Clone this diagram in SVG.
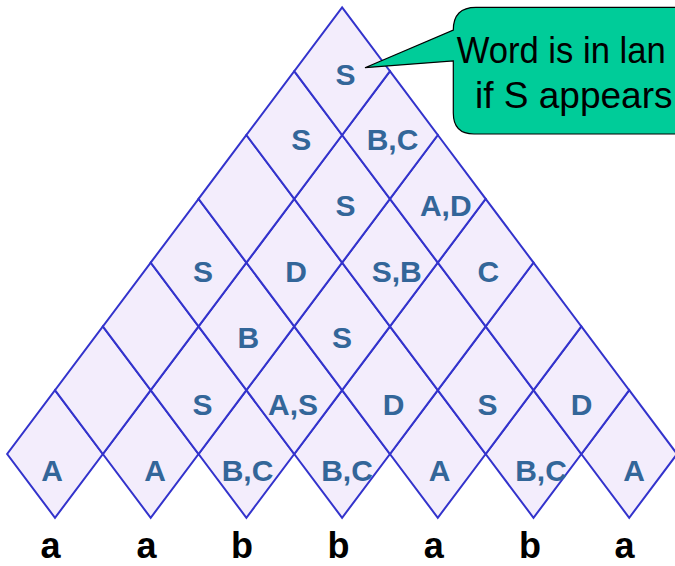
<svg xmlns="http://www.w3.org/2000/svg" xmlns:xlink="http://www.w3.org/1999/xlink" width="675" height="566" viewBox="0 0 675 566">
<style>
.cell{fill:#F3EDFC;stroke:#3333CC;stroke-width:2;stroke-linejoin:miter}
.lbl{font-family:"Liberation Sans",Arial,sans-serif;font-weight:bold;font-size:30px;fill:#336699;text-anchor:middle}
.sym{font-family:"Liberation Sans",Arial,sans-serif;font-weight:bold;font-size:36px;fill:#000;text-anchor:middle}
.note{font-family:"Liberation Sans",Arial,sans-serif;font-size:37px;fill:#000}
</style>
<defs>
<polygon id="dia" points="0,-63.8 47.85,0 0,63.8 -47.85,0"/>
</defs>
<rect width="675" height="566" fill="#fff"/>
<g id="row0">
<g id="c0-0"><use xlink:href="#dia" class="cell" x="55" y="454"/><text class="lbl" x="52" y="481">A</text></g>
<g id="c0-1"><use xlink:href="#dia" class="cell" x="150.7" y="454"/><text class="lbl" x="155" y="481">A</text></g>
<g id="c0-2"><use xlink:href="#dia" class="cell" x="246.4" y="454"/><text class="lbl" x="247.5" y="481">B,C</text></g>
<g id="c0-3"><use xlink:href="#dia" class="cell" x="342.1" y="454"/><text class="lbl" x="347" y="481">B,C</text></g>
<g id="c0-4"><use xlink:href="#dia" class="cell" x="437.8" y="454"/><text class="lbl" x="439.7" y="481">A</text></g>
<g id="c0-5"><use xlink:href="#dia" class="cell" x="533.5" y="454"/><text class="lbl" x="541" y="481">B,C</text></g>
<g id="c0-6"><use xlink:href="#dia" class="cell" x="629.2" y="454"/><text class="lbl" x="634" y="481">A</text></g>
</g>
<g id="row1">
<g id="c1-0"><use xlink:href="#dia" class="cell" x="102.85" y="390.2"/></g>
<g id="c1-1"><use xlink:href="#dia" class="cell" x="198.55" y="390.2"/><text class="lbl" x="202.5" y="415">S</text></g>
<g id="c1-2"><use xlink:href="#dia" class="cell" x="294.25" y="390.2"/><text class="lbl" x="293" y="415">A,S</text></g>
<g id="c1-3"><use xlink:href="#dia" class="cell" x="389.95" y="390.2"/><text class="lbl" x="393.7" y="415">D</text></g>
<g id="c1-4"><use xlink:href="#dia" class="cell" x="485.65" y="390.2"/><text class="lbl" x="487.5" y="415">S</text></g>
<g id="c1-5"><use xlink:href="#dia" class="cell" x="581.35" y="390.2"/><text class="lbl" x="581.7" y="415">D</text></g>
</g>
<g id="row2">
<g id="c2-0"><use xlink:href="#dia" class="cell" x="150.7" y="326.4"/></g>
<g id="c2-1"><use xlink:href="#dia" class="cell" x="246.4" y="326.4"/><text class="lbl" x="248.3" y="348">B</text></g>
<g id="c2-2"><use xlink:href="#dia" class="cell" x="342.1" y="326.4"/><text class="lbl" x="342" y="348">S</text></g>
<g id="c2-3"><use xlink:href="#dia" class="cell" x="437.8" y="326.4"/></g>
<g id="c2-4"><use xlink:href="#dia" class="cell" x="533.5" y="326.4"/></g>
</g>
<g id="row3">
<g id="c3-0"><use xlink:href="#dia" class="cell" x="198.55" y="262.6"/><text class="lbl" x="203" y="282">S</text></g>
<g id="c3-1"><use xlink:href="#dia" class="cell" x="294.25" y="262.6"/><text class="lbl" x="296" y="282">D</text></g>
<g id="c3-2"><use xlink:href="#dia" class="cell" x="389.95" y="262.6"/><text class="lbl" x="396.7" y="282">S,B</text></g>
<g id="c3-3"><use xlink:href="#dia" class="cell" x="485.65" y="262.6"/><text class="lbl" x="488.3" y="282">C</text></g>
</g>
<g id="row4">
<g id="c4-0"><use xlink:href="#dia" class="cell" x="246.4" y="198.8"/></g>
<g id="c4-1"><use xlink:href="#dia" class="cell" x="342.1" y="198.8"/><text class="lbl" x="345.5" y="216">S</text></g>
<g id="c4-2"><use xlink:href="#dia" class="cell" x="437.8" y="198.8"/><text class="lbl" x="445.8" y="216">A,D</text></g>
</g>
<g id="row5">
<g id="c5-0"><use xlink:href="#dia" class="cell" x="294.25" y="135"/><text class="lbl" x="301.3" y="150">S</text></g>
<g id="c5-1"><use xlink:href="#dia" class="cell" x="389.95" y="135"/><text class="lbl" x="392.5" y="150">B,C</text></g>
</g>
<g id="row6">
<g id="c6-0"><use xlink:href="#dia" class="cell" x="342.1" y="71.2"/><text class="lbl" x="345.5" y="85">S</text></g>
</g>
<g id="word">
<text class="sym" x="50.6" y="558">a</text>
<text class="sym" x="146.6" y="558">a</text>
<text class="sym" x="242" y="558">b</text>
<text class="sym" x="338.6" y="558">b</text>
<text class="sym" x="433.7" y="558">a</text>
<text class="sym" x="530" y="558">b</text>
<text class="sym" x="624.5" y="558">a</text>
</g>
<g id="connectors"></g>
<g id="callout">
<path d="M365,67.7 L453.3,30 Q453.3,7.3 476,7.3 L700,7.3 L700,134 L474,134 Q453.3,134 453.3,113 L453.3,61 Z" fill="#00CC99" stroke="#000" stroke-width="1.2"/>
<text class="note" x="456.7" y="63.3" textLength="209" lengthAdjust="spacingAndGlyphs">Word is in lan</text>
<text class="note" x="475" y="108.3">if S appears</text>
</g>
</svg>
